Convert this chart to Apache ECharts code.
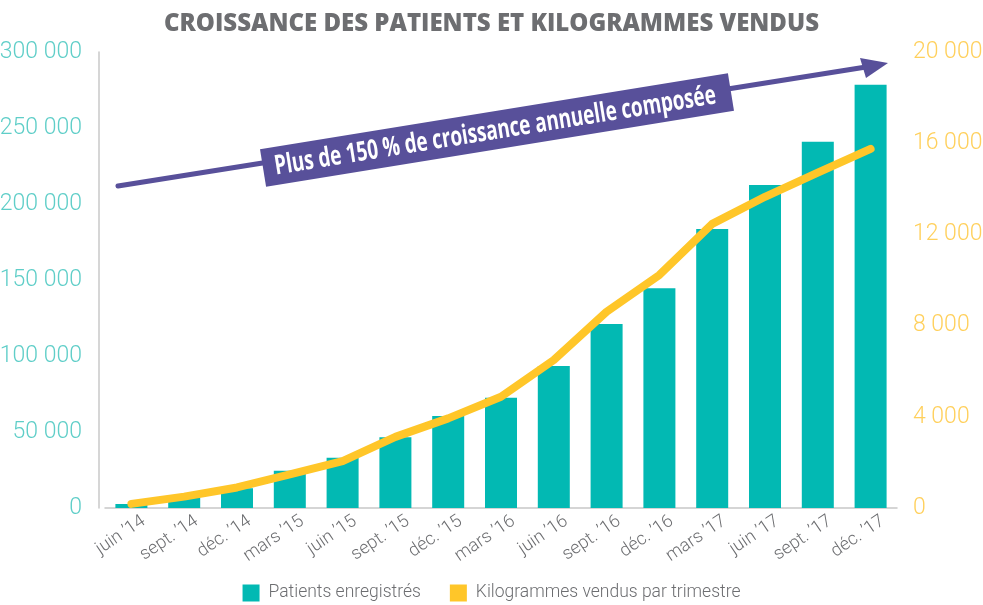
<!DOCTYPE html>
<html><head><meta charset="utf-8">
<script src="https://cdn.jsdelivr.net/npm/echarts@6/dist/echarts.min.js"></script>
<style>html,body{margin:0;padding:0;background:#fff}#c{width:983px;height:605px}</style>
</head><body><div id="c"></div>
<script>
const categories = ["juin ’14","sept. ’14","déc. ’14","mars ’15","juin ’15","sept. ’15","déc. ’15","mars ’16","juin ’16","sept. ’16","déc. ’16","mars ’17","juin ’17","sept. ’17","déc. ’17"];
const patients = [2600, 6800, 13000, 24500, 33000, 46500, 60500, 72500, 93500, 121000, 144500, 183500, 212500, 241000, 278500];
const kilogrammes = [180, 500, 900, 1480, 2060, 3120, 3930, 4880, 6490, 8610, 10220, 12460, 13650, 14710, 15750];
const leftTicks = [0, 50000, 100000, 150000, 200000, 250000, 300000];
const rightTicks = [0, 4000, 8000, 12000, 16000, 20000];
const titleText = "CROISSANCE DES PATIENTS ET KILOGRAMMES VENDUS";
const bannerText = "Plus de 150 % de croissance annuelle composée";

const fmt = v => String(v).replace(/\B(?=(\d{3})+(?!\d))/g, " ");
const thin = "Roboto,sans-serif";
const chart = echarts.init(document.getElementById('c'));
const ang = 9.2 * Math.PI / 180;
chart.setOption({
  animation: false,
  title: {text: titleText, left: 'center', top: 7,
    textStyle: {fontFamily: "'Open Sans',sans-serif", fontWeight: 800, fontSize: 24, color: '#6D6E71'}},
  legend: {bottom: -2, left: 'center', itemWidth: 17, itemHeight: 17, itemGap: 29, icon: 'rect',
    textStyle: {fontFamily: thin, fontWeight: 300, fontSize: 17.5, color: '#6D6E71', padding: [0, 0, 0, 4]},
    data: ['Patients enregistrés', 'Kilogrammes vendus par trimestre']},
  grid: {left: 105, right: 86, top: 52, bottom: 97, containLabel: false, outerBoundsMode: 'none'},
  xAxis: {type: 'category', data: categories,
    axisLine: {lineStyle: {color: '#C8C8C8', width: 1.5}}, axisTick: {show: false},
    axisLabel: {rotate: 34, interval: 0, margin: 20, padding: [0, -15, 0, 0], fontFamily: thin, fontWeight: 300, fontSize: 18, color: '#6D6E71'}},
  yAxis: [
    {type: 'value', min: leftTicks[0], max: leftTicks[leftTicks.length-1], interval: leftTicks[1]-leftTicks[0],
     offset: 6, axisLine: {show: true, lineStyle: {color: '#C8C8C8', width: 1.5}}, axisTick: {show: false},
     splitLine: {show: false},
     axisLabel: {margin: 17, formatter: fmt, fontFamily: thin, fontWeight: 300, fontSize: 23, color: '#5FCEC8'}},
    {type: 'value', position: 'right', min: rightTicks[0], max: rightTicks[rightTicks.length-1], interval: rightTicks[1]-rightTicks[0],
     axisLine: {show: false}, axisTick: {show: false}, splitLine: {show: false},
     axisLabel: {margin: 16, formatter: fmt, fontFamily: thin, fontWeight: 300, fontSize: 23, color: '#FFD05C'}}
  ],
  series: [
    {name: 'Patients enregistrés', type: 'bar', data: patients, barWidth: 32,
     itemStyle: {color: '#02B9B3'}},
    {name: 'Kilogrammes vendus par trimestre', type: 'line', yAxisIndex: 1, data: kilogrammes,
     symbol: 'none', lineStyle: {color: '#FFC629', width: 8, cap: 'round', join: 'round'},
     itemStyle: {color: '#FFC629'}}
  ],
  graphic: [
    {type: 'line', shape: {x1: 118, y1: 186, x2: 866, y2: 67}, style: {stroke: '#58509A', lineWidth: 5, lineCap: 'round'}, z: 10},
    {type: 'polygon', shape: {points: [[888, 63], [860, 58], [866, 78]]}, style: {fill: '#58509A'}, z: 10},
    {type: 'group', x: 497, y: 130, rotation: ang, z: 11, children: [
      {type: 'rect', shape: {x: -237, y: -19, width: 474, height: 38}, style: {fill: '#58509A'}, z: 11},
      {type: 'text', x: -2, y: 1, scaleX: 0.7, z: 12, style: {text: bannerText, fill: '#fff', fontFamily: "'Open Sans',sans-serif", fontWeight: 'bold', fontSize: 27, align: 'center', verticalAlign: 'middle'}}
    ]}
  ]
});
</script></body></html>
